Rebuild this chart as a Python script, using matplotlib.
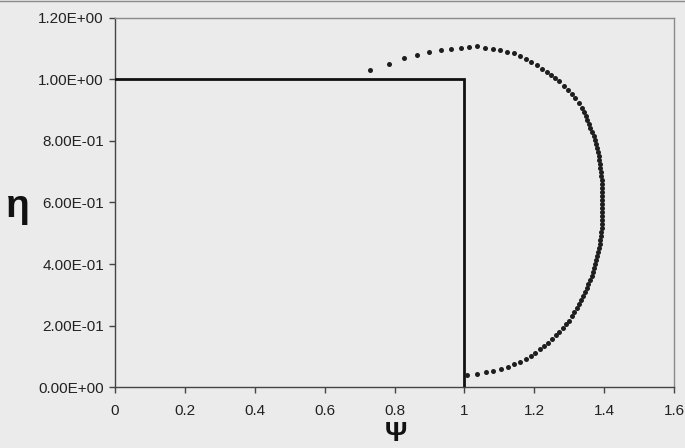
import matplotlib
matplotlib.use('Agg')
import matplotlib.pyplot as plt
from matplotlib.ticker import FuncFormatter, MultipleLocator
from matplotlib.lines import Line2D

plt.rcParams['font.family'] = ['Liberation Sans', 'DejaVu Sans']

# boundary (solid line)
line_psi = [0.0, 1.0, 1.0]
line_eta = [1.0, 1.0, 0.0]

# dotted curve
dots_psi = [0.730, 0.784, 0.828, 0.865, 0.900, 0.933, 0.961, 0.989, 1.013, 1.037,
            1.060, 1.083, 1.103, 1.123, 1.141, 1.160, 1.176, 1.191, 1.207, 1.222,
            1.236, 1.247, 1.259, 1.271, 1.284, 1.297, 1.307, 1.318, 1.328, 1.336,
            1.342, 1.347, 1.351, 1.356, 1.361, 1.366, 1.370, 1.374, 1.377, 1.380,
            1.382, 1.384, 1.386, 1.388, 1.389, 1.391, 1.392, 1.393, 1.394, 1.394,
            1.395, 1.395, 1.395, 1.395, 1.395, 1.395, 1.395, 1.394, 1.394, 1.393,
            1.392, 1.391, 1.389, 1.387, 1.385, 1.383, 1.380, 1.377, 1.374, 1.371,
            1.367, 1.364, 1.359, 1.355, 1.351, 1.345, 1.340, 1.335, 1.329, 1.323,
            1.314, 1.307, 1.299, 1.290, 1.282, 1.272, 1.261, 1.252, 1.239, 1.229,
            1.216, 1.203, 1.190, 1.175, 1.159, 1.142, 1.124, 1.104, 1.082, 1.061,
            1.037, 1.008]
dots_eta = [1.031, 1.049, 1.070, 1.079, 1.090, 1.096, 1.099, 1.101, 1.107, 1.108,
            1.101, 1.098, 1.096, 1.089, 1.085, 1.077, 1.067, 1.057, 1.047, 1.035,
            1.025, 1.016, 1.005, 0.994, 0.979, 0.966, 0.954, 0.940, 0.923, 0.906,
            0.894, 0.881, 0.868, 0.855, 0.842, 0.829, 0.816, 0.803, 0.790, 0.777,
            0.764, 0.751, 0.738, 0.725, 0.712, 0.699, 0.686, 0.673, 0.660, 0.647,
            0.634, 0.621, 0.608, 0.595, 0.582, 0.569, 0.556, 0.543, 0.530, 0.517,
            0.504, 0.491, 0.478, 0.465, 0.452, 0.439, 0.426, 0.413, 0.400, 0.387,
            0.374, 0.361, 0.348, 0.335, 0.322, 0.309, 0.296, 0.283, 0.270, 0.257,
            0.245, 0.231, 0.216, 0.204, 0.192, 0.180, 0.168, 0.156, 0.144, 0.133,
            0.123, 0.112, 0.102, 0.092, 0.082, 0.074, 0.066, 0.059, 0.052, 0.048,
            0.042, 0.039]

bg = '#ebebeb'
fig = plt.figure(figsize=(6.85, 4.48), dpi=100, facecolor=bg)
ax = fig.add_axes([115/685, 61/448, 559/685, 369/448], facecolor=bg)

ax.plot(line_psi, line_eta, color='#111111', lw=2.0, solid_joinstyle='miter', zorder=3)
ax.plot(dots_psi, dots_eta, ls='none', marker='o', ms=3.6, color='#1e1e1e',
        markeredgewidth=0, zorder=4)

ax.set_xlim(0, 1.6)
ax.set_ylim(0, 1.2)
ax.xaxis.set_major_locator(MultipleLocator(0.2))
ax.yaxis.set_major_locator(MultipleLocator(0.2))
ax.xaxis.set_major_formatter(FuncFormatter(lambda v, p: '%g' % round(v, 2)))
ax.yaxis.set_major_formatter(FuncFormatter(lambda v, p: '%.2E' % v))

for s in ['left', 'bottom']:
    ax.spines[s].set_color('#444444')
    ax.spines[s].set_linewidth(1.0)
for s in ['top', 'right']:
    ax.spines[s].set_color('#8a8a8a')
    ax.spines[s].set_linewidth(1.0)

ax.tick_params(axis='both', direction='out', length=4, width=1, color='#444444',
               labelsize=11, labelcolor='#222222')
ax.tick_params(axis='x', pad=8)
ax.tick_params(axis='y', pad=4)

fig.text(18/685, 1 - 207/448, '\u03b7', fontsize=28, fontweight='bold',
         ha='center', va='center', color='#111111')
fig.text(396/685, 1/448, '\u03a8', fontsize=20, fontweight='bold',
         ha='center', va='bottom', color='#111111')

fig.add_artist(Line2D([0, 1], [0.998, 0.998], transform=fig.transFigure,
                      color='#8a8a8a', lw=1.0))

fig.savefig('out.png', dpi=100, facecolor=bg)
